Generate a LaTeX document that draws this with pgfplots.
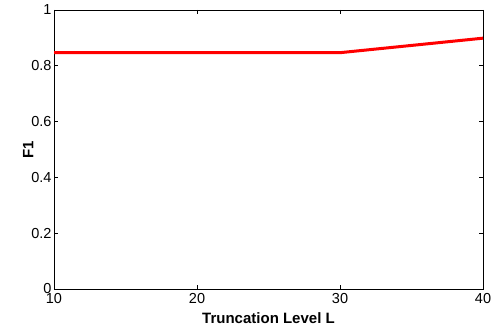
\documentclass[border=0pt]{standalone}
\usepackage{fontspec}
\setmainfont{Liberation Sans}
\usepackage{pgfplots}
\pgfplotsset{compat=1.18}
\begin{document}
\begin{tikzpicture}
\begin{axis}[
  scale only axis,
  width=429pt, height=279pt,
  xmin=10, xmax=40, ymin=0, ymax=1,
  xtick={10,20,30,40},
  ytick={0,0.2,0.4,0.6,0.8,1},
  yticklabels={0,0.2,0.4,0.6,0.8,1},
  tick align=inside,
  major tick length=4pt,
  tick style={black, line width=0.6pt},
  axis line style={line width=0.9pt},
  /pgf/number format/assume math mode=true,
  ticklabel style={font=\fontsize{14.5}{17}\selectfont},
  xticklabel style={yshift=-1pt},
  yticklabel style={xshift=1pt},
  xlabel={\textbf{Truncation Level L}},
  ylabel={\textbf{F1}},
  label style={font=\fontsize{15}{18}\selectfont},
  xlabel style={yshift=-2pt},
  ylabel style={yshift=-9pt},
]
\addplot[red, line width=3pt] coordinates {(10,0.847) (30,0.847) (40,0.899)};
\end{axis}
\pgfresetboundingbox
\path[use as bounding box] ([shift={(-54pt,-39pt)}]current axis.south west) rectangle ([shift={(8pt,10pt)}]current axis.north east);
\end{tikzpicture}
\end{document}
